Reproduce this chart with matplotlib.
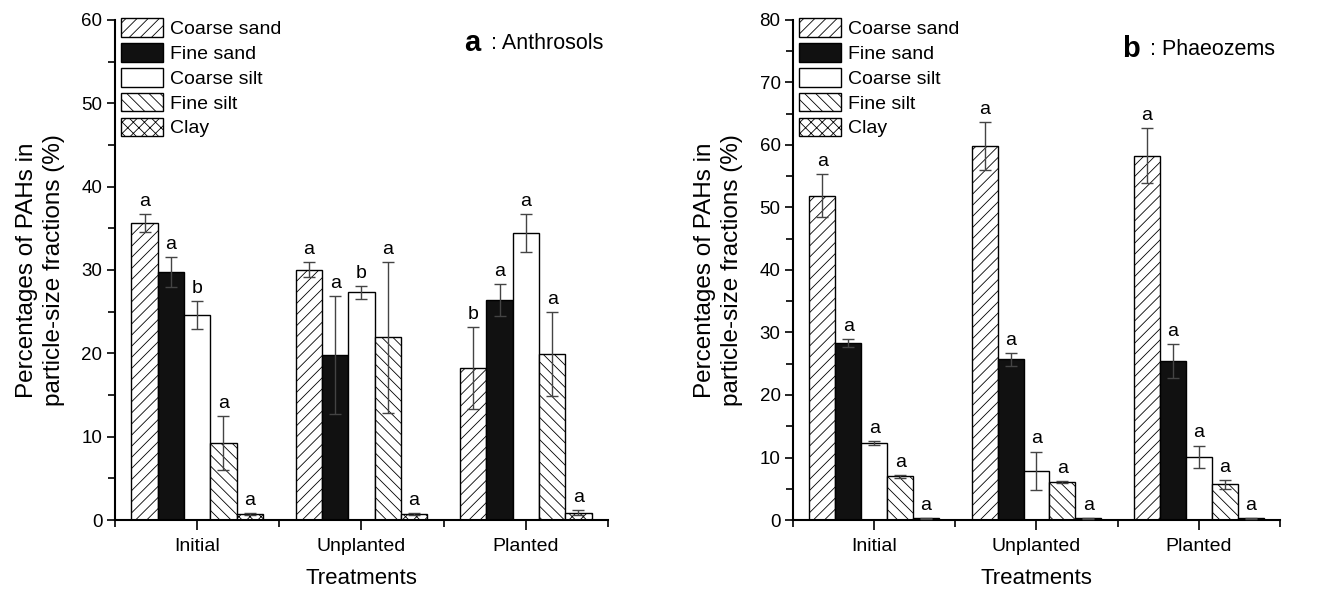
import matplotlib.pyplot as plt
import numpy as np
from matplotlib.ticker import MultipleLocator, FixedLocator

plt.rcParams['font.family'] = ['Liberation Sans', 'DejaVu Sans']
plt.rcParams['hatch.linewidth'] = 0.6

treatments = ["Initial", "Unplanted", "Planted"]
fractions = ["Coarse sand", "Fine sand", "Coarse silt", "Fine silt", "Clay"]

# rows = fractions, columns = treatments
anthro_mean = [[35.6, 30.0, 18.2],
               [29.7, 19.8, 26.4],
               [24.6, 27.3, 34.4],
               [9.2, 21.9, 19.9],
               [0.7, 0.7, 0.9]]
anthro_err = [[1.1, 0.9, 4.9],
              [1.8, 7.1, 1.9],
              [1.65, 0.8, 2.3],
              [3.25, 9.0, 5.0],
              [0.1, 0.1, 0.25]]
anthro_letters = [["a", "a", "b"],
                  ["a", "a", "a"],
                  ["b", "b", "a"],
                  ["a", "a", "a"],
                  ["a", "a", "a"]]

phaeo_mean = [[51.9, 59.8, 58.3],
              [28.3, 25.7, 25.4],
              [12.3, 7.9, 10.1],
              [7.0, 6.1, 5.7],
              [0.25, 0.25, 0.25]]
phaeo_err = [[3.5, 3.8, 4.4],
             [0.7, 1.0, 2.7],
             [0.3, 3.05, 1.8],
             [0.2, 0.15, 0.75],
             [0.05, 0.05, 0.05]]
phaeo_letters = [["a", "a", "a"]] * 5

hatches = ["///", "", "", "\\\\\\", "xxx"]
faces = ["white", "#111111", "white", "white", "white"]


def draw_panel(ax, means, errs, letters, ymax):
    x = np.arange(1, 4)
    w = 0.16
    for i in range(5):
        pos = x + (i - 2) * w
        ax.bar(pos, means[i], w, color=faces[i], edgecolor="black",
               hatch=hatches[i], linewidth=1.0, label=fractions[i], zorder=2)
        ax.errorbar(pos, means[i], yerr=errs[i], fmt="none", ecolor="#444444",
                    elinewidth=1.0, capsize=4, capthick=1.0, zorder=3)
        for j in range(3):
            ax.annotate(letters[i][j], (pos[j], means[i][j] + errs[i][j]),
                        xytext=(0, 3), textcoords="offset points",
                        ha="center", va="bottom", fontsize=14)
    ax.set_xlim(0.5, 3.5)
    ax.set_ylim(0, ymax)
    ax.set_xticks(x)
    ax.set_xticklabels(treatments, fontsize=14)
    ax.xaxis.set_minor_locator(FixedLocator([0.5, 1.5, 2.5, 3.5]))
    ax.yaxis.set_major_locator(MultipleLocator(10))
    ax.yaxis.set_minor_locator(MultipleLocator(5))
    ax.tick_params(axis="y", labelsize=13.5, length=6, width=1.2, pad=3)
    ax.tick_params(axis="y", which="minor", length=5, width=1.2)
    ax.tick_params(axis="x", which="major", length=7, width=1.2, pad=6)
    ax.tick_params(axis="x", which="minor", length=5, width=1.2)
    for s in ["top", "right"]:
        ax.spines[s].set_visible(False)
    for s in ["left", "bottom"]:
        ax.spines[s].set_linewidth(1.5)
    ax.set_xlabel("Treatments", fontsize=16, labelpad=9)
    ax.set_ylabel("Percentages of PAHs in\nparticle-size fractions (%)",
                  fontsize=17.5, labelpad=12, linespacing=1.3)
    ax.legend(loc="upper left", bbox_to_anchor=(0.0, 1.015), frameon=False,
              fontsize=14, handlelength=2.15, handleheight=1.1,
              labelspacing=0.25, handletextpad=0.4, borderaxespad=0.0,
              borderpad=0.3)


fig = plt.figure(figsize=(13.29, 5.96), dpi=100)
ax1 = fig.add_axes([0.0865, 0.1275, 0.371, 0.839])
ax2 = fig.add_axes([0.5967, 0.1275, 0.3664, 0.839])

draw_panel(ax1, anthro_mean, anthro_err, anthro_letters, 60)
draw_panel(ax2, phaeo_mean, phaeo_err, phaeo_letters, 80)

# panel tags: soil name ends near the right edge, bold letter just before it
fig.canvas.draw()
renderer = fig.canvas.get_renderer()
for ax, tag, soil, yy in [(ax1, "a", "Anthrosols", 0.952), (ax2, "b", "Phaeozems", 0.94)]:
    t = ax.text(0.99, yy, ": " + soil, transform=ax.transAxes, fontsize=15.5,
                ha="right", va="center")
    bb = t.get_window_extent(renderer).transformed(ax.transAxes.inverted())
    ax.text(bb.x0 - 0.02, yy + 0.002, tag, transform=ax.transAxes, fontsize=21,
            fontweight="bold", ha="right", va="center")

fig.savefig("out.png", dpi=100)
